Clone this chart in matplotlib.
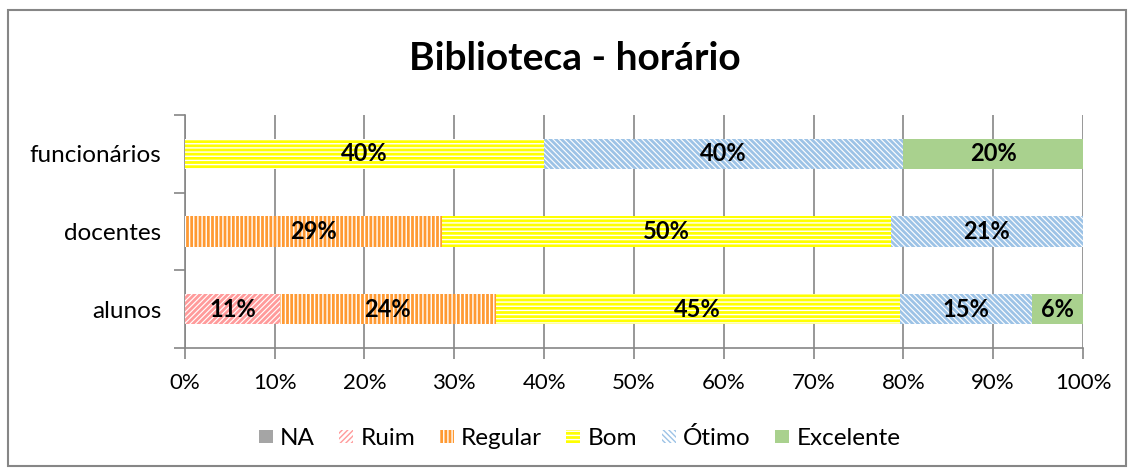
import matplotlib.pyplot as plt
from matplotlib.patches import Rectangle, Patch

plt.rcParams['font.family'] = ['Lato', 'DejaVu Sans']

# data
categories = ['alunos', 'docentes', 'funcionários']
series = ['NA', 'Ruim', 'Regular', 'Bom', 'Ótimo', 'Excelente']
values = {
    'NA':        [0.0, 0.0, 0.0],
    'Ruim':      [10.6, 0.0, 0.0],
    'Regular':   [24.0, 28.6, 0.0],
    'Bom':       [45.0, 50.0, 40.0],
    'Ótimo':     [14.7, 21.4, 40.0],
    'Excelente': [5.7, 0.0, 20.0],
}
xticks = [0, 10, 20, 30, 40, 50, 60, 70, 80, 90, 100]

# style: (facecolor, hatch color, hatch, hatch linewidth)
styles = {
    'NA':        ('#A5A5A5', '#A5A5A5', None, 1.0),
    'Ruim':      ('white', '#FF9B9B', '//////', 2.0),
    'Regular':   ('#FF9A33', 'white', '||||', 1.0),
    'Bom':       ('#FFFF00', 'white', '----', 1.0),
    'Ótimo':     ('white', '#9DC3E6', '\\\\\\\\\\\\', 2.0),
    'Excelente': ('#A9D18E', '#A9D18E', None, 1.0),
}

def set_hlw(p, lw):
    if hasattr(p, 'set_hatch_linewidth'):
        p.set_hatch_linewidth(lw)

fig = plt.figure(figsize=(11.34, 4.71), dpi=100)
ax = fig.add_axes([0.163, 0.261, 0.792, 0.495])

y = list(range(len(categories)))
left = [0.0] * len(categories)
for s in series:
    fc, hc, hatch, hlw = styles[s]
    plt.rcParams['hatch.linewidth'] = hlw
    vals = values[s]
    bars = ax.barh(y, vals, left=left, height=0.39, color=fc, edgecolor=hc,
                   hatch=hatch, linewidth=0, label=s, zorder=3)
    for b in bars:
        set_hlw(b, hlw)
    for i, v in enumerate(vals):
        if v > 0:
            ax.text(left[i] + v / 2, y[i], f'{round(v)}%', ha='center', va='center',
                    fontsize=17, fontweight='bold', color='black', zorder=4)
    left = [l + v for l, v in zip(left, vals)]

ax.set_xlim(0, 100)
ax.set_ylim(-0.5, 2.5)
ax.set_xticks(xticks)
ax.set_xticklabels([f'{t}%' for t in xticks], fontsize=16)
ax.set_yticks(y)
ax.set_yticklabels(categories, fontsize=17.5)
ax.set_yticks([-0.5, 0.5, 1.5, 2.5], minor=True)
ax.tick_params(axis='y', which='major', length=0, pad=17)
ax.tick_params(axis='y', which='minor', length=8, color='#868686', width=1.2)
ax.tick_params(axis='x', length=8, color='#868686', width=1.2, pad=10)
ax.grid(axis='x', color='#868686', linewidth=1.2, zorder=0)
for sp in ['top', 'right']:
    ax.spines[sp].set_visible(False)
for sp in ['left', 'bottom']:
    ax.spines[sp].set_color('#868686')
    ax.spines[sp].set_linewidth(1.2)

fig.text(0.507, 0.875, 'Biblioteca - horário', ha='center', va='center',
         fontsize=28, fontweight='bold')

handles = []
for s in series:
    fc, hc, hatch, hlw = styles[s]
    plt.rcParams['hatch.linewidth'] = hlw
    p = Patch(facecolor=fc, edgecolor=hc, hatch=hatch, linewidth=0, label=s)
    set_hlw(p, hlw)
    handles.append(p)
fig.legend(handles=handles, loc='center', bbox_to_anchor=(0.511, 0.07), ncol=6,
           frameon=False, fontsize=17.5, handlelength=0.58, handleheight=0.45,
           handletextpad=0.3, columnspacing=1.0)

fig.add_artist(Rectangle((0.007, 0.01), 0.986, 0.968, transform=fig.transFigure,
                         fill=False, edgecolor='#868686', linewidth=1.5))

fig.savefig('out.png', dpi=100)
